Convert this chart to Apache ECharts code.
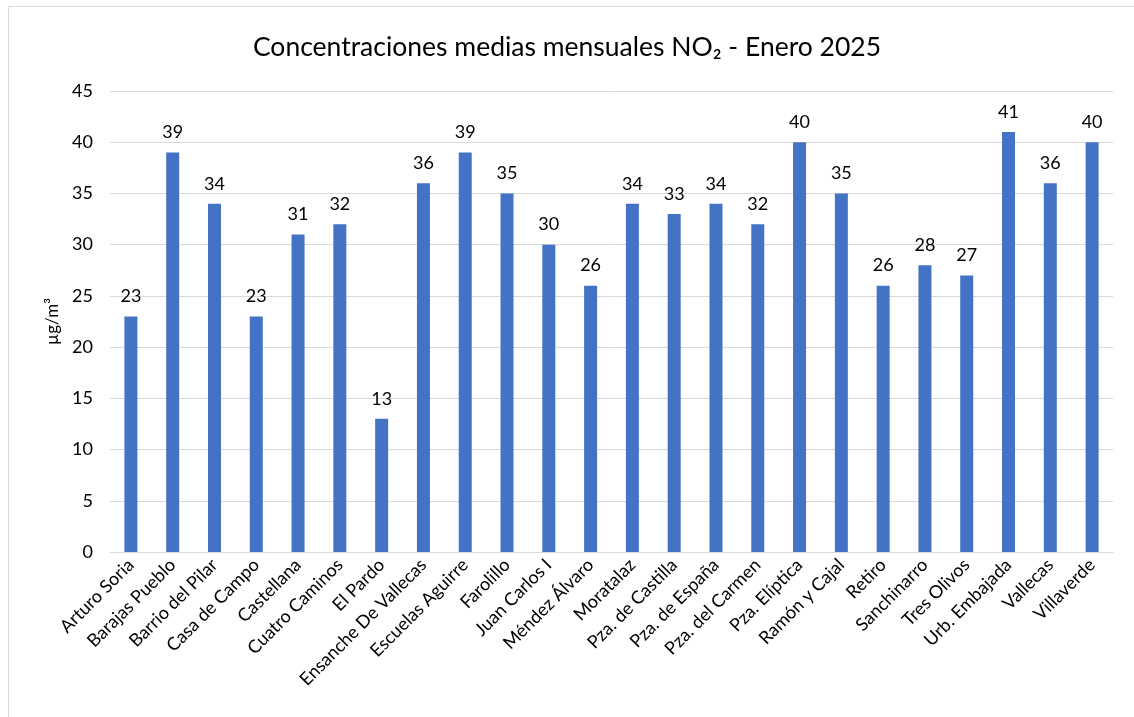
<!DOCTYPE html>
<html>
<head>
<meta charset="utf-8">
<script src="https://cdn.jsdelivr.net/npm/echarts@6/dist/echarts.min.js"></script>
<style>
  html, body { margin: 0; padding: 0; background: #fff; }
  #chart { width: 1134px; height: 717px; }
</style>
</head>
<body>
<div id="chart"></div>
<script>
const estaciones = [
  "Arturo Soria", "Barajas Pueblo", "Barrio del Pilar", "Casa de Campo", "Castellana",
  "Cuatro Caminos", "El Pardo", "Ensanche De Vallecas", "Escuelas Aguirre", "Farolillo",
  "Juan Carlos I", "Méndez Álvaro", "Moratalaz", "Pza. de Castilla", "Pza. de España",
  "Pza. del Carmen", "Pza. Elíptica", "Ramón y Cajal", "Retiro", "Sanchinarro",
  "Tres Olivos", "Urb. Embajada", "Vallecas", "Villaverde"
];
const valores = [23, 39, 34, 23, 31, 32, 13, 36, 39, 35, 30, 26, 34, 33, 34, 32, 40, 35, 26, 28, 27, 41, 36, 40];

const fuente = "Lato, 'Open Sans', sans-serif";
let myChart = echarts.init(document.getElementById("chart"));

let option = {
  backgroundColor: "#fff",
  animation: false,
  title: {
    text: "Concentraciones medias mensuales NO₂ - Enero 2025",
    left: "center",
    top: 29,
    textStyle: { fontFamily: fuente, fontSize: 26.5, fontWeight: "normal", color: "#000" }
  },
  graphic: [{
    // marco del gráfico
    type: "rect",
    shape: { x: 8.5, y: 6.5, width: 1140, height: 720 },
    style: { fill: "none", stroke: "#d9d9d9", lineWidth: 1 },
    silent: true
  }],
  grid: { left: 110, right: 21, top: 91, bottom: 165 },
  xAxis: {
    type: "category",
    data: estaciones,
    axisLine: { lineStyle: { color: "#d9d9d9", width: 1 } },
    axisTick: { show: false },
    axisLabel: {
      interval: 0,
      rotate: 45,
      margin: 10,
      fontFamily: fuente,
      fontSize: 18,
      color: "#000"
    }
  },
  yAxis: {
    type: "value",
    min: 0,
    max: 45,
    interval: 5,
    name: "µg/m³",
    nameLocation: "middle",
    nameGap: 48,
    nameTextStyle: { fontFamily: fuente, fontSize: 17, color: "#000" },
    axisLine: { show: false },
    axisTick: { show: false },
    splitLine: { lineStyle: { color: "#d9d9d9", width: 1 } },
    axisLabel: { fontFamily: fuente, fontSize: 18, color: "#000", margin: 17 }
  },
  series: [{
    type: "bar",
    data: valores,
    barWidth: 13,
    itemStyle: { color: "#4472C4" },
    label: {
      show: true,
      position: "top",
      distance: 11,
      fontFamily: fuente,
      fontSize: 18,
      color: "#000"
    }
  }]
};

myChart.setOption(option);
</script>
</body>
</html>
